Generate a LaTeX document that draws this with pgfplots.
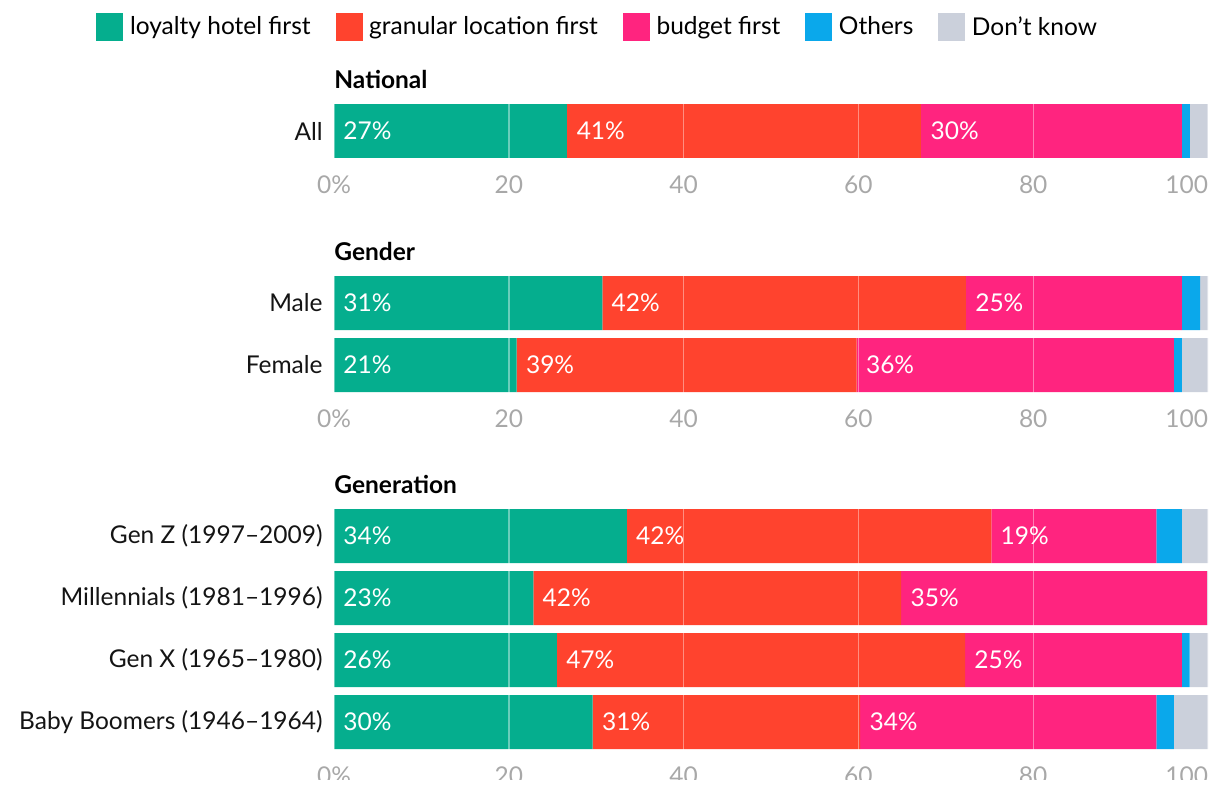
\documentclass[border=0pt]{standalone}
\usepackage{pgfplots}
\pgfplotsset{compat=1.18}
\usepackage{pgfplotstable}
\usepackage{fontspec}
\setmainfont{Lato}
\definecolor{cTeal}{RGB}{5,174,142}
\definecolor{cRed}{RGB}{255,67,46}
\definecolor{cPink}{RGB}{255,36,127}
\definecolor{cBlue}{RGB}{10,168,235}
\definecolor{cGray}{RGB}{203,208,219}
\definecolor{cTick}{RGB}{168,168,168}

\pgfplotstableread{
y loyalty granular budget others dk l1 l2 l3
0 26.7 40.5 29.8 0.9 2.1 27 41 30
}\tabNat
\pgfplotstableread{
y loyalty granular budget others dk l1 l2 l3
0 30.7 41.6 24.7 2.1 0.9 31 42 25
1 20.9 38.9 36.3 0.9 3.0 21 39 36
}\tabGen
\pgfplotstableread{
y loyalty granular budget others dk l1 l2 l3
0 33.5 41.7 18.9 2.9 3.0 34 42 19
1 22.8 42.1 35.0 0.0 0.1 23 42 35
2 25.5 46.7 24.8 0.9 2.1 26 47 25
3 29.6 30.6 33.9 2.0 3.9 30 31 34
}\tabGenr

\newcommand\fnt{\fontsize{12.25}{14}\selectfont}
\pgfplotsset{
 base/.style={
  scale only axis, width=437pt, xmin=0, xmax=100, y dir=reverse, ymin=-0.5,
  font=\fnt, anchor=north west,
 },
 bars/.style={base, xbar stacked, bar width=27pt, axis on top,
   axis line style={draw=none}, major tick length=0pt,
   xtick={0,20,...,100}, xticklabels={0\%,20,40,60,80,\makebox[0pt][r]{100}},
   xticklabel style={text=cTick, inner sep=0pt, yshift=-6.5pt},
   yticklabel style={inner sep=0pt, xshift=-5.5pt, text=black!92},
   xmajorgrids, grid style={white, opacity=0.4, line width=0.7pt},
   title style={at={(0,1)}, anchor=base west, inner sep=0pt, yshift=0pt, font=\fnt\bfseries},
   every axis plot/.append style={draw=none},
 },
 labs/.style={base, hide axis, clip=false,
   nodes near coords={\pgfplotspointmeta\%}, point meta=explicit symbolic,
   nodes near coords style={anchor=west, inner sep=0pt, xshift=4.5pt, text=white, font=\fnt}},
}

\begin{document}
\begin{tikzpicture}
\path[use as bounding box] (0,0) rectangle (610pt,-397pt);

% National
\begin{axis}[bars, at={(167pt,-50pt)}, height=31pt, ymax=0.5, ytick={0}, yticklabels={All},
  title={National},
  legend columns=5,
  legend style={draw=none, fill=none, at={(-0.2723,2.17)}, anchor=west, inner sep=0pt,
    font=\fnt, nodes={inner sep=1.5pt},
    /tikz/every odd column/.append style={column sep=1.8pt},
    /tikz/every even column/.append style={column sep=11pt}},
  legend image code/.code={\fill[#1] (0pt,-7pt) rectangle (13.5pt,7pt);},
]
\addplot[fill=cTeal] table[x=loyalty, y=y]{\tabNat};
\addplot[fill=cRed] table[x=granular, y=y]{\tabNat};
\addplot[fill=cPink] table[x=budget, y=y]{\tabNat};
\addplot[fill=cBlue] table[x=others, y=y]{\tabNat};
\addplot[fill=cGray] table[x=dk, y=y]{\tabNat};
\legend{loyalty hotel first, granular location first, budget first, Others, Don't know}
\end{axis}
\begin{axis}[labs, at={(167pt,-50pt)}, height=31pt, ymax=0.5]
\addplot[draw=none] table[x expr=0, y=y, meta=l1]{\tabNat};
\addplot[draw=none] table[x=loyalty, y=y, meta=l2]{\tabNat};
\addplot[draw=none] table[x expr=\thisrow{loyalty}+\thisrow{granular}, y=y, meta=l3]{\tabNat};
\end{axis}

% Gender
\begin{axis}[bars, at={(167pt,-136pt)}, height=62pt, ymax=1.5, ytick={0,1}, yticklabels={Male,Female},
  title={Gender}]
\addplot[fill=cTeal] table[x=loyalty, y=y]{\tabGen};
\addplot[fill=cRed] table[x=granular, y=y]{\tabGen};
\addplot[fill=cPink] table[x=budget, y=y]{\tabGen};
\addplot[fill=cBlue] table[x=others, y=y]{\tabGen};
\addplot[fill=cGray] table[x=dk, y=y]{\tabGen};
\end{axis}
\begin{axis}[labs, at={(167pt,-136pt)}, height=62pt, ymax=1.5]
\addplot[draw=none] table[x expr=0, y=y, meta=l1]{\tabGen};
\addplot[draw=none] table[x=loyalty, y=y, meta=l2]{\tabGen};
\addplot[draw=none] table[x expr=\thisrow{loyalty}+\thisrow{granular}, y=y, meta=l3]{\tabGen};
\end{axis}

% Generation
\begin{axis}[bars, at={(167pt,-252.5pt)}, height=124pt, ymax=3.5, ytick={0,1,2,3},
  yticklabels={Gen Z (1997–2009),Millennials (1981–1996),Gen X (1965–1980),Baby Boomers (1946–1964)},
  title={Generation}]
\addplot[fill=cTeal] table[x=loyalty, y=y]{\tabGenr};
\addplot[fill=cRed] table[x=granular, y=y]{\tabGenr};
\addplot[fill=cPink] table[x=budget, y=y]{\tabGenr};
\addplot[fill=cBlue] table[x=others, y=y]{\tabGenr};
\addplot[fill=cGray] table[x=dk, y=y]{\tabGenr};
\end{axis}
\begin{axis}[labs, at={(167pt,-252.5pt)}, height=124pt, ymax=3.5]
\addplot[draw=none] table[x expr=0, y=y, meta=l1]{\tabGenr};
\addplot[draw=none] table[x=loyalty, y=y, meta=l2]{\tabGenr};
\addplot[draw=none] table[x expr=\thisrow{loyalty}+\thisrow{granular}, y=y, meta=l3]{\tabGenr};
\end{axis}
\fill[white] (0,-390pt) rectangle (610pt,-397pt);
\end{tikzpicture}
\end{document}
